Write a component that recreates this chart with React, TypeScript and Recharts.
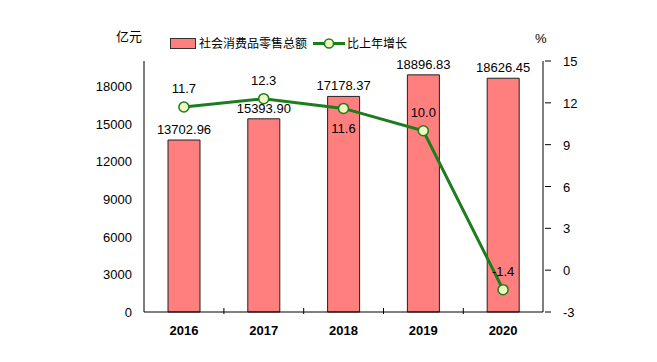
import { ComposedChart, Bar, Line, XAxis, YAxis, LabelList } from "recharts";

const years = ["2016", "2017", "2018", "2019", "2020"];
const retailSales = [13702.96, 15393.9, 17178.37, 18896.83, 18626.45];
const growthRate = [11.7, 12.3, 11.6, 10.0, -1.4];
const leftTicks = [0, 3000, 6000, 9000, 12000, 15000, 18000];
const rightTicks = [-3, 0, 3, 6, 9, 12, 15];
// label below the point for 2018 only
const growthLabelBelow = [false, false, true, false, false];

const data = years.map((year, i) => ({
  year,
  sales: retailSales[i],
  growth: growthRate[i],
}));

const FONT = '"Liberation Sans", Arial, "Noto Sans CJK SC", sans-serif';
const BAR_FILL = "#ff7f7f";
const LINE_GREEN = "#1d7d1d";
const DOT_FILL = "#eef8c0";

const LeftTick = ({ x, y, payload }: any) => (
  <text x={x - 4} y={y} dy={5} textAnchor="end" fontSize={13} fill="#000" fontFamily={FONT}>
    {payload.value}
  </text>
);

const RightTick = ({ x, y, payload }: any) => (
  <g>
    <line x1={x - 6} y1={y} x2={x} y2={y} stroke="#000" />
    <text x={x + 12} y={y} dy={5} textAnchor="start" fontSize={13} fill="#000" fontFamily={FONT}>
      {payload.value}
    </text>
  </g>
);

const XTick = ({ x, y, payload, index }: any) => (
  <g>
    {index < years.length - 1 && (
      <line x1={x + 40} y1={y - 12} x2={x + 40} y2={y - 6} stroke="#000" />
    )}
    <text x={x} y={y + 15} textAnchor="middle" fontSize={13} fontWeight="bold" fill="#000" fontFamily={FONT}>
      {payload.value}
    </text>
  </g>
);

const GrowthLabel = ({ x, y, value, index }: any) => {
  const below = growthLabelBelow[index];
  return (
    <text
      x={x}
      y={below ? y + 25 : y - 14}
      textAnchor="middle"
      fontSize={13}
      fill="#000"
      fontFamily={FONT}
    >
      {Number(value).toFixed(1)}
    </text>
  );
};

const SalesLabel = ({ x, y, width, value }: any) => (
  <text x={x + width / 2} y={y - 6} textAnchor="middle" fontSize={13} fill="#000" fontFamily={FONT}>
    {Number(value).toFixed(2)}
  </text>
);

const LegendBox = () => (
  <svg width={250} height={20} style={{ position: "absolute", left: 162, top: 27, overflow: "visible" }}>
    <rect x={0.5} y={3.5} width={25} height={10} fill={BAR_FILL} stroke="#333" />
    <text x={29} y={13} fontSize={12} fill="#000" fontFamily={FONT}>社会消费品零售总额</text>
    <line x1={143} y1={8.5} x2={175} y2={8.5} stroke={LINE_GREEN} strokeWidth={3} />
    <circle cx={159} cy={8.5} r={4.5} fill={DOT_FILL} stroke={LINE_GREEN} strokeWidth={1.5} />
    <text x={177} y={13} fontSize={12} fill="#000" fontFamily={FONT}>比上年增长</text>
  </svg>
);

export default function App() {
  return (
    <div style={{ position: "relative", width: 641, height: 346, fontFamily: FONT }}>
      <ComposedChart
        width={641}
        height={346}
        data={data}
        margin={{ top: 53, right: 46, left: 76, bottom: 12 }}
      >
        <XAxis
          dataKey="year"
          stroke="#000"
          tickLine={false}
          tick={<XTick />}
          height={30}
          interval={0}
        />
        <YAxis
          yAxisId="left"
          domain={[0, 20000]}
          ticks={leftTicks}
          stroke="#000"
          tickLine={false}
          tick={<LeftTick />}
          width={60}
          interval={0}
        />
        <YAxis
          yAxisId="right"
          orientation="right"
          domain={[-3, 15]}
          ticks={rightTicks}
          stroke="#000"
          tickLine={false}
          tick={<RightTick />}
          width={60}
          interval={0}
        />
        <Bar
          yAxisId="left"
          dataKey="sales"
          fill={BAR_FILL}
          stroke="#222"
          strokeWidth={1}
          barSize={32}
          isAnimationActive={false}
        >
          <LabelList dataKey="sales" content={<SalesLabel />} />
        </Bar>
        <Line
          yAxisId="right"
          dataKey="growth"
          stroke={LINE_GREEN}
          strokeWidth={3}
          dot={{ r: 5, fill: DOT_FILL, stroke: LINE_GREEN, strokeWidth: 1.5 }}
          isAnimationActive={false}
        >
          <LabelList dataKey="growth" content={<GrowthLabel />} />
        </Line>
      </ComposedChart>
      <LegendBox />
      <div style={{ position: "absolute", left: 108, top: 18, fontSize: 13, color: "#000" }}>亿元</div>
      <div style={{ position: "absolute", left: 527, top: 23, fontSize: 13, color: "#000" }}>%</div>
    </div>
  );
}
